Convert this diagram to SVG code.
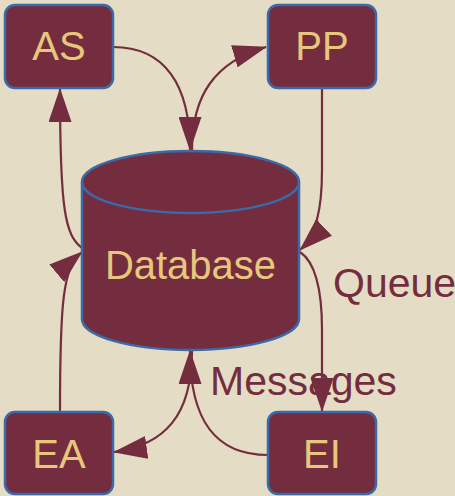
<svg xmlns="http://www.w3.org/2000/svg" width="455" height="496" viewBox="0 0 455 496">
<style>
.box{fill:#742d3e;stroke:#3b6aa8;stroke-width:2.5}
.t{font-family:"Liberation Sans",Arial,sans-serif;font-size:40px;fill:#e6c77c;text-anchor:middle}
.lbl{font-family:"Liberation Sans",Arial,sans-serif;font-size:41px;fill:#742d3e}
.e{fill:none;stroke:#742d3e;stroke-width:2.2;marker-end:url(#ah)}
</style>
<defs>
<marker id="ah" viewBox="0 0 34 23" refX="33" refY="11.5" markerWidth="34" markerHeight="23" markerUnits="userSpaceOnUse" orient="auto">
<path d="M0,0 L34,11.5 L0,23 z" fill="#742d3e"/>
</marker>
</defs>
<rect width="455" height="496" fill="#e4dcc5"/>
<g id="edges">
<path class="e" d="M113,47 C165,47 190,85 190,150"/>
<path class="e" d="M192,150 C192,95 215,62 266,47"/>
<path class="e" d="M82,248 C65,235 60,210 60,89"/>
<path class="e" d="M60,412 C60,300 63,268 82,252"/>
<path class="e" d="M322,88 L322,170 C322,210 316,235 300,250"/>
<path class="e" d="M300,252 C315,262 322,290 322,330 L322,411"/>
<path class="e" d="M268,455 C215,455 190,420 190,351"/>
<path class="e" d="M192,351 C192,415 165,445 114,452"/>
</g>
<g id="Database">
<path class="box" d="M82,182 L82,319 A108.5,31 0 0 0 299,319 L299,182"/>
<ellipse class="box" cx="190.5" cy="182" rx="108.5" ry="31"/>
<text class="t" x="190.5" y="279">Database</text>
</g>
<g id="AS">
<rect class="box" x="5" y="5" width="108" height="83" rx="10"/>
<text class="t" x="59" y="60">AS</text>
</g>
<g id="PP">
<rect class="box" x="268" y="5" width="108" height="83" rx="10"/>
<text class="t" x="322" y="60">PP</text>
</g>
<g id="EA">
<rect class="box" x="5" y="412" width="108" height="82" rx="10"/>
<text class="t" x="59" y="468">EA</text>
</g>
<g id="EI">
<rect class="box" x="268" y="412" width="108" height="82" rx="10"/>
<text class="t" x="322" y="468">EI</text>
</g>
<text class="lbl" x="333" y="297">Queue</text>
<text class="lbl" x="210" y="395">Messages</text>
</svg>
